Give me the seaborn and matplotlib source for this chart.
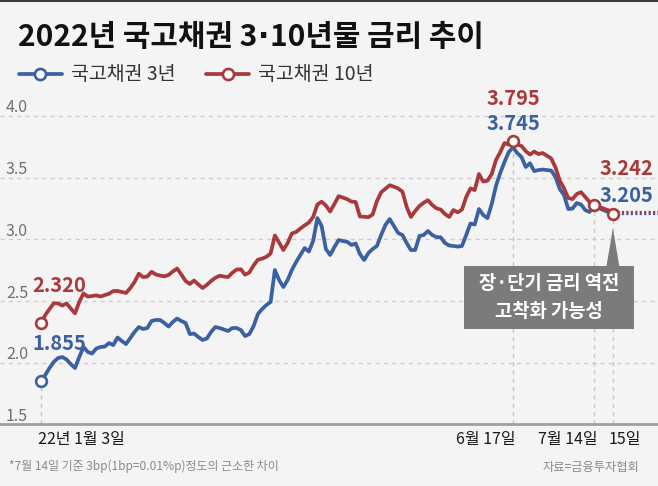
import numpy as np
import pandas as pd
import matplotlib
matplotlib.use("Agg")
import matplotlib.pyplot as plt
import matplotlib.patches as mpatches
import matplotlib.transforms as mtransforms
from matplotlib.lines import Line2D
import seaborn as sns

# ---------------- data ----------------
title_parts = ["2022년 국고채권 3", "·", "10년물 금리 추이"]
series_names = ["국고채권 3년", "국고채권 10년"]
# trading-day index from 2022-01-03 (7/15 is drawn with a wider gap, as in the original)
day_index = list(range(131)) + [134.5]
rate_3y = [1.855, 1.900, 1.957, 2.006, 2.038, 2.046, 2.026, 1.989, 1.957, 2.046,
           2.127, 2.087, 2.074, 2.115, 2.127, 2.131, 2.159, 2.143, 2.204, 2.176,
           2.151, 2.200, 2.249, 2.289, 2.273, 2.281, 2.338, 2.346, 2.346, 2.322,
           2.293, 2.330, 2.358, 2.338, 2.322, 2.232, 2.236, 2.208, 2.184, 2.196,
           2.249, 2.289, 2.281, 2.269, 2.257, 2.281, 2.281, 2.265, 2.216, 2.232,
           2.297, 2.394, 2.435, 2.467, 2.492, 2.751, 2.670, 2.613, 2.670, 2.751,
           2.816, 2.873, 2.929, 2.901, 2.986, 3.172, 3.108, 2.921, 2.873, 2.937,
           2.994, 2.986, 2.980, 2.954, 2.966, 2.881, 2.832, 2.889, 2.921, 2.946,
           3.035, 3.116, 3.164, 3.108, 3.051, 3.035, 2.970, 2.913, 2.913, 3.027,
           3.035, 3.067, 3.035, 3.018, 3.016, 2.970, 2.950, 2.946, 2.941, 2.946,
           3.035, 3.128, 3.120, 3.245, 3.197, 3.172, 3.286, 3.432, 3.537, 3.626,
           3.707, 3.745, 3.699, 3.667, 3.586, 3.616, 3.553, 3.561, 3.565, 3.561,
           3.557, 3.505, 3.407, 3.359, 3.245, 3.249, 3.294, 3.282, 3.237, 3.221,
           3.270, 3.205]
rate_10y = [2.320, 2.386, 2.435, 2.481, 2.481, 2.463, 2.480, 2.439, 2.400, 2.492,
            2.561, 2.536, 2.540, 2.546, 2.536, 2.548, 2.559, 2.581, 2.581, 2.573,
            2.565, 2.605, 2.654, 2.721, 2.694, 2.698, 2.737, 2.715, 2.706, 2.700,
            2.711, 2.739, 2.763, 2.715, 2.662, 2.638, 2.666, 2.634, 2.605, 2.631,
            2.662, 2.688, 2.705, 2.698, 2.694, 2.729, 2.755, 2.757, 2.713, 2.731,
            2.788, 2.835, 2.843, 2.858, 2.885, 3.031, 2.974, 2.913, 2.970, 3.047,
            3.059, 3.087, 3.113, 3.136, 3.181, 3.282, 3.305, 3.274, 3.225, 3.286,
            3.350, 3.338, 3.325, 3.306, 3.302, 3.185, 3.183, 3.179, 3.201, 3.310,
            3.381, 3.409, 3.438, 3.426, 3.412, 3.386, 3.262, 3.181, 3.229, 3.270,
            3.296, 3.317, 3.278, 3.251, 3.241, 3.205, 3.181, 3.237, 3.219, 3.241,
            3.343, 3.412, 3.399, 3.529, 3.468, 3.475, 3.529, 3.642, 3.706, 3.780,
            3.768, 3.795, 3.769, 3.756, 3.715, 3.687, 3.711, 3.691, 3.699, 3.677,
            3.655, 3.582, 3.476, 3.413, 3.335, 3.326, 3.367, 3.382, 3.343, 3.302,
            3.278, 3.222]
yticks = [1.5, 2.0, 2.5, 3.0, 3.5, 4.0]
ytick_labels = ["1.5", "2.0", "2.5", "3.0", "3.5", "4.0"]
key_days = [0, 111, 130, 134.5]
xtick_labels = ["22년 1월 3일", "6월 17일", "7월 14일", "15일"]
value_labels_3y = {0: "1.855", 111: "3.745", 131: "3.205"}
value_labels_10y = {0: "2.320", 111: "3.795", 131: "3.242"}
callout_lines = ["장·단기 금리 역전", "고착화 가능성"]
footnote = "*7월 14일 기준 3bp(1bp=0.01%p)정도의 근소한 차이"
source = "자료=금융투자협회"

# ---------------- style ----------------
BLUE = "#3b61a1"
RED = "#a93a3c"
BG = "#f4f4f4"
KR = ["Noto Sans CJK KR", "DejaVu Sans"]
NUM = ["Liberation Sans Narrow", "DejaVu Sans Condensed", "Noto Sans CJK KR", "DejaVu Sans"]

sns.set_theme(style="white")
plt.rcParams["font.family"] = KR
plt.rcParams["axes.unicode_minus"] = False

W, H = 658, 486
fig = plt.figure(figsize=(W / 100, H / 100), dpi=100, facecolor=BG)
ax_bottom_px, ax_top_px = 424.4, 95
ax = fig.add_axes([0, (H - ax_bottom_px) / H, 1, (ax_bottom_px - ax_top_px) / H])
ax.set_facecolor(BG)

px_per_day = 4.252
x_left = -41 / px_per_day
x_right = (W - 41) / px_per_day
ax.set_xlim(x_left, x_right)
ax.set_ylim(1.5, 1.5 + (ax_bottom_px - ax_top_px) / 123.4)

df = pd.DataFrame({
    "day": day_index * 2,
    "rate": rate_3y + rate_10y,
    "series": [series_names[0]] * len(rate_3y) + [series_names[1]] * len(rate_10y),
})
palette = {series_names[0]: BLUE, series_names[1]: RED}

# grid
ax.set_yticks(yticks)
ax.yaxis.grid(True, linestyle=(0, (3, 3)), color="#cdcdcd", linewidth=1)
ax.tick_params(axis="y", length=0, labelleft=False)

# vertical guide lines
guide_vals = [rate_3y[0], rate_10y[111], rate_10y[130], rate_3y[-1]]
ax.vlines(key_days, 1.5, guide_vals, colors="#c6c6c6", linestyles=(0, (3, 3)), linewidth=1, zorder=1)

# dotted continuation after last point
ax.plot([day_index[-1], x_right], [rate_10y[-1], rate_10y[-1]], color=RED, lw=1.6, ls=(0, (1, 1)), zorder=2)
ax.plot([day_index[-1], x_right], [rate_3y[-1], rate_3y[-1]], color=BLUE, lw=1.6, ls=(0, (1, 1)), zorder=2)

sns.lineplot(data=df, x="day", y="rate", hue="series", palette=palette, linewidth=2.7,
             legend=False, ax=ax, zorder=3, estimator=None, sort=False)

# highlighted points
hl = pd.DataFrame({
    "day": [day_index[0], day_index[0], day_index[111], day_index[130], day_index[131]],
    "rate": [rate_3y[0], rate_10y[0], rate_10y[111], rate_10y[130], rate_3y[131]],
    "edge": [BLUE, RED, RED, RED, RED],
})
for edge, sub in hl.groupby("edge"):
    sns.scatterplot(data=sub, x="day", y="rate", s=60, color="white", edgecolor=edge,
                    linewidth=1.9, ax=ax, zorder=5)

ax.set_xlabel("")
ax.set_ylabel("")

# y labels (above gridlines, inside)
for v, lab in zip(yticks, ytick_labels):
    ax.annotate(lab, xy=(0, v), xycoords=("axes fraction", "data"), xytext=(6, 8),
                textcoords="offset pixels", ha="left", va="center", fontsize=11.5,
                color="#707070", family=NUM, fontstretch="condensed")

# x axis
for s in ["top", "left", "right"]:
    ax.spines[s].set_visible(False)
ax.spines["bottom"].set_color("#a0a0a0")
ax.spines["bottom"].set_linewidth(2)
ax.set_xticks(key_days)
ax.set_xticklabels(xtick_labels)
ax.tick_params(axis="x", direction="in", length=6, width=1.2, color="#555555", pad=5,
               labelsize=11.5, labelcolor="#1a1a1a")
has = ["left", "right", "right", "left"]
offs = [-3, 3, 4, -4]
for lab, ha, o in zip(ax.get_xticklabels(), has, offs):
    lab.set_ha(ha)
    lab.set_transform(lab.get_transform() + mtransforms.ScaledTranslation(o / 100, 0, fig.dpi_scale_trans))

# value labels
def vlabel(x, y, txt, color, dx, dy, ha="center"):
    ax.annotate(txt, xy=(x, y), xytext=(dx, dy), textcoords="offset pixels", ha=ha,
                va="center", fontsize=14.5, fontweight="bold", color=color, family=NUM,
                fontstretch="condensed", zorder=6)

vlabel(day_index[0], rate_10y[0], value_labels_10y[0], RED, 18, 38)
vlabel(day_index[0], rate_3y[0], value_labels_3y[0], BLUE, 18, 37)
vlabel(day_index[111], rate_10y[111], value_labels_10y[111], RED, 0, 43)
vlabel(day_index[111], rate_3y[111], value_labels_3y[111], BLUE, 0, 24)
vlabel(day_index[131], rate_3y[131], value_labels_10y[131], RED, 41, 46, ha="right")
vlabel(day_index[131], rate_3y[131], value_labels_3y[131], BLUE, 41, 19, ha="right")

# callout box with pointer
box_x0, box_x1 = 99.5, 139.5
box_y0, box_y1 = 2.274, 2.784
ax.add_patch(mpatches.Rectangle((box_x0, box_y0), box_x1 - box_x0, box_y1 - box_y0,
                                facecolor="#7b7b7b", edgecolor="none", zorder=7))
ax.add_patch(mpatches.Polygon([(day_index[-1] - 1.5, box_y1), (day_index[-1] + 1.5, box_y1),
                               (day_index[-1], 3.09)], closed=True, facecolor="#7b7b7b",
                              edgecolor="none", zorder=7))
cx = (box_x0 + box_x1) / 2
for line, dy in zip(callout_lines, (13.5, -14)):
    ax.annotate(line, xy=(cx, (box_y0 + box_y1) / 2), xytext=(0, dy), textcoords="offset pixels",
                ha="center", va="center", fontsize=13.5, fontweight="bold", color="white", zorder=8)

# title (middle dot drawn in a Latin font so it stays narrow)
t1 = fig.text(18 / W, 1 - 37 / H, title_parts[0], fontsize=21.5, fontweight="bold",
              color="#111111", ha="left", va="center")
t2 = fig.text(0, 0, "", transform=fig.transFigure)
t2 = ax.annotate(title_parts[1], xy=(1, 0.5), xycoords=t1, xytext=(1, 0), textcoords="offset pixels",
                 ha="left", va="center", fontsize=21.5, fontweight="bold", color="#111111",
                 family=["DejaVu Sans"], annotation_clip=False)
t3 = ax.annotate(title_parts[2], xy=(1, 0.5), xycoords=t2, xytext=(1, 0), textcoords="offset pixels",
                 ha="left", va="center", fontsize=21.5, fontweight="bold", color="#111111",
                 annotation_clip=False)

handles = [Line2D([], [], color=c, lw=2.7, marker="o", markersize=8, mfc="white", mec=c, mew=1.9)
           for c in (BLUE, RED)]
fig.legend(handles, series_names, loc="center left", bbox_to_anchor=(19 / W, 1 - 75 / H),
           ncol=2, frameon=False, fontsize=14, handlelength=2.2, handletextpad=0.45,
           columnspacing=1.6, borderpad=0, borderaxespad=0, labelcolor="#333333")
fig.text(9 / W, 1 - 466 / H, footnote, fontsize=8.6, color="#8a8a8a", ha="left", va="center")
fig.text(639 / W, 1 - 467 / H, source, fontsize=8.8, color="#8a8a8a", ha="right", va="center")

# top border
fig.add_artist(mpatches.Rectangle((0, 1 - 2.5 / H), 1, 2.5 / H, transform=fig.transFigure,
                                  facecolor="#3a3a3a", edgecolor="none"))

fig.savefig("out.png", dpi=100, facecolor=BG)
